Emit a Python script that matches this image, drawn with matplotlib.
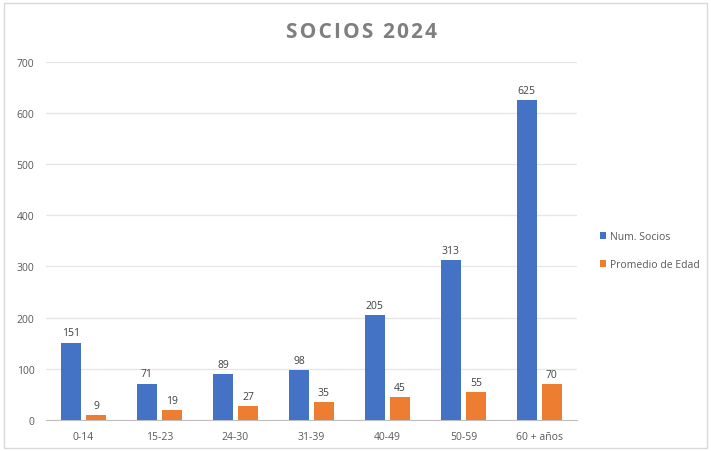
import matplotlib
matplotlib.use("Agg")
import matplotlib.pyplot as plt
import numpy as np
from matplotlib.patches import Rectangle

categories = ["0-14", "15-23", "24-30", "31-39", "40-49", "50-59", "60 + años"]
num_socios = [151, 71, 89, 98, 205, 313, 625]
promedio_edad = [9, 19, 27, 35, 45, 55, 70]
series_names = ["Num. Socios", "Promedio de Edad"]
yticks = [0, 100, 200, 300, 400, 500, 600, 700]
title = "SOCIOS 2024"

blue = "#4472C4"
orange = "#ED7D31"
txt = "#595959"

plt.rcParams['font.family'] = ['Open Sans', 'DejaVu Sans']

fig = plt.figure(figsize=(7.11, 4.52), dpi=100)
fig.patches.append(Rectangle((0.006, 0.006), 0.988, 0.985, transform=fig.transFigure,
                             fill=False, edgecolor="#d9d9d9", linewidth=1.0))
ax = fig.add_axes([0.064, 0.069, 0.748, 0.792])

x = np.arange(len(categories))
w = 0.27
off = 0.165
b1 = ax.bar(x - off, num_socios, w, color=blue, label=series_names[0], zorder=3)
b2 = ax.bar(x + off, promedio_edad, w, color=orange, label=series_names[1], zorder=3)
for bars in (b1, b2):
    ax.bar_label(bars, padding=3, fontsize=7.5, color="#404040")

ax.set_xlim(-0.5, len(categories) - 0.5)
ax.set_ylim(0, 700)
ax.set_yticks(yticks)
ax.set_xticks(x)
ax.set_xticklabels(categories)
ax.tick_params(axis="both", length=0, labelsize=7.5, labelcolor=txt, pad=8)
ax.grid(axis="y", color="#e6e6e6", linewidth=0.9, zorder=0)
for s in ("top", "right", "left"):
    ax.spines[s].set_visible(False)
ax.spines["bottom"].set_color("#bfbfbf")

spaced = "\u200a".join(title)
fig.text(0.509, 0.928, spaced,
         ha="center", va="center", fontsize=15, fontweight="bold", color="#7f7f7f",
         family=['Open Sans', 'DejaVu Sans'])

fig.legend(handles=[b1, b2], labels=series_names, loc="center left",
           bbox_to_anchor=(0.83, 0.443), frameon=False, fontsize=7.5,
           labelcolor=txt, handlelength=0.6, handleheight=0.6, handletextpad=0.4,
           labelspacing=1.6)

fig.savefig("out.png", dpi=100)
